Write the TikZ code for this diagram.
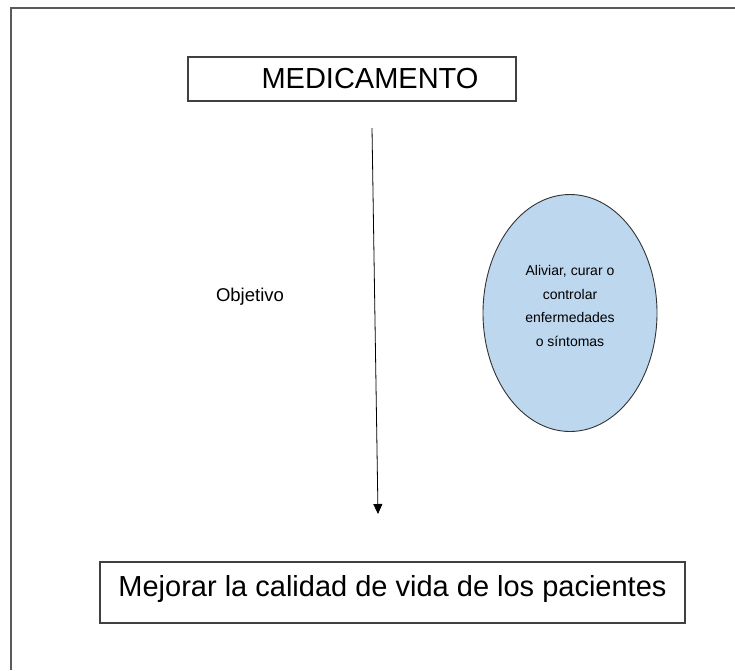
\documentclass[tikz,border=0pt]{standalone}
\usepackage{fontspec}
\setmainfont{Liberation Sans}
\usetikzlibrary{arrows.meta,positioning,shapes.geometric}
\definecolor{framegray}{RGB}{90,90,90}
\definecolor{paleblue}{RGB}{189,215,238}

\begin{document}
\begin{tikzpicture}[x=1pt,y=-1pt,>={Triangle[width=9pt,length=10pt]}]
  \tikzstyle{every node}=[inner sep=0pt]
  \tikzstyle{box}=[rectangle,draw={rgb:black,3;white,1},line width=1.2pt]
  \useasboundingbox (0,0) rectangle (735,670);
  % outer frame
  \draw[framegray,line width=1.6pt] (11,670) -- (11,8) -- (735,8);

  \node[box,minimum width=328pt,minimum height=44pt] (med) at (352,79)
    {\fontsize{29}{32}\selectfont\hspace*{36pt}MEDICAMENTO};
  \node (obj) at (250,297) {\fontsize{18.5}{22}\selectfont Objetivo};
  \node[ellipse,draw={rgb:black,4;white,1},line width=0.9pt,fill=paleblue,
        minimum width=174pt,minimum height=237pt,align=center,
        font=\fontsize{14}{23.7}\selectfont] (sint) at (570,313)
    {Aliviar, curar o\\controlar\\enfermedades\\o síntomas\\[-9.7pt]\mbox{}};
  \node[box,minimum width=585pt,minimum height=61pt,inner ysep=8pt,
        text height=26pt,text depth=19pt] (mejora) at (392.5,592.5)
    {\fontsize{29}{32}\selectfont Mejorar la calidad de vida de los pacientes};

  \coordinate (start) at (372,128);
  \coordinate (end) at (378,514);
  \draw[->,line width=0.8pt] (start) -- (end);
\end{tikzpicture}
\end{document}
